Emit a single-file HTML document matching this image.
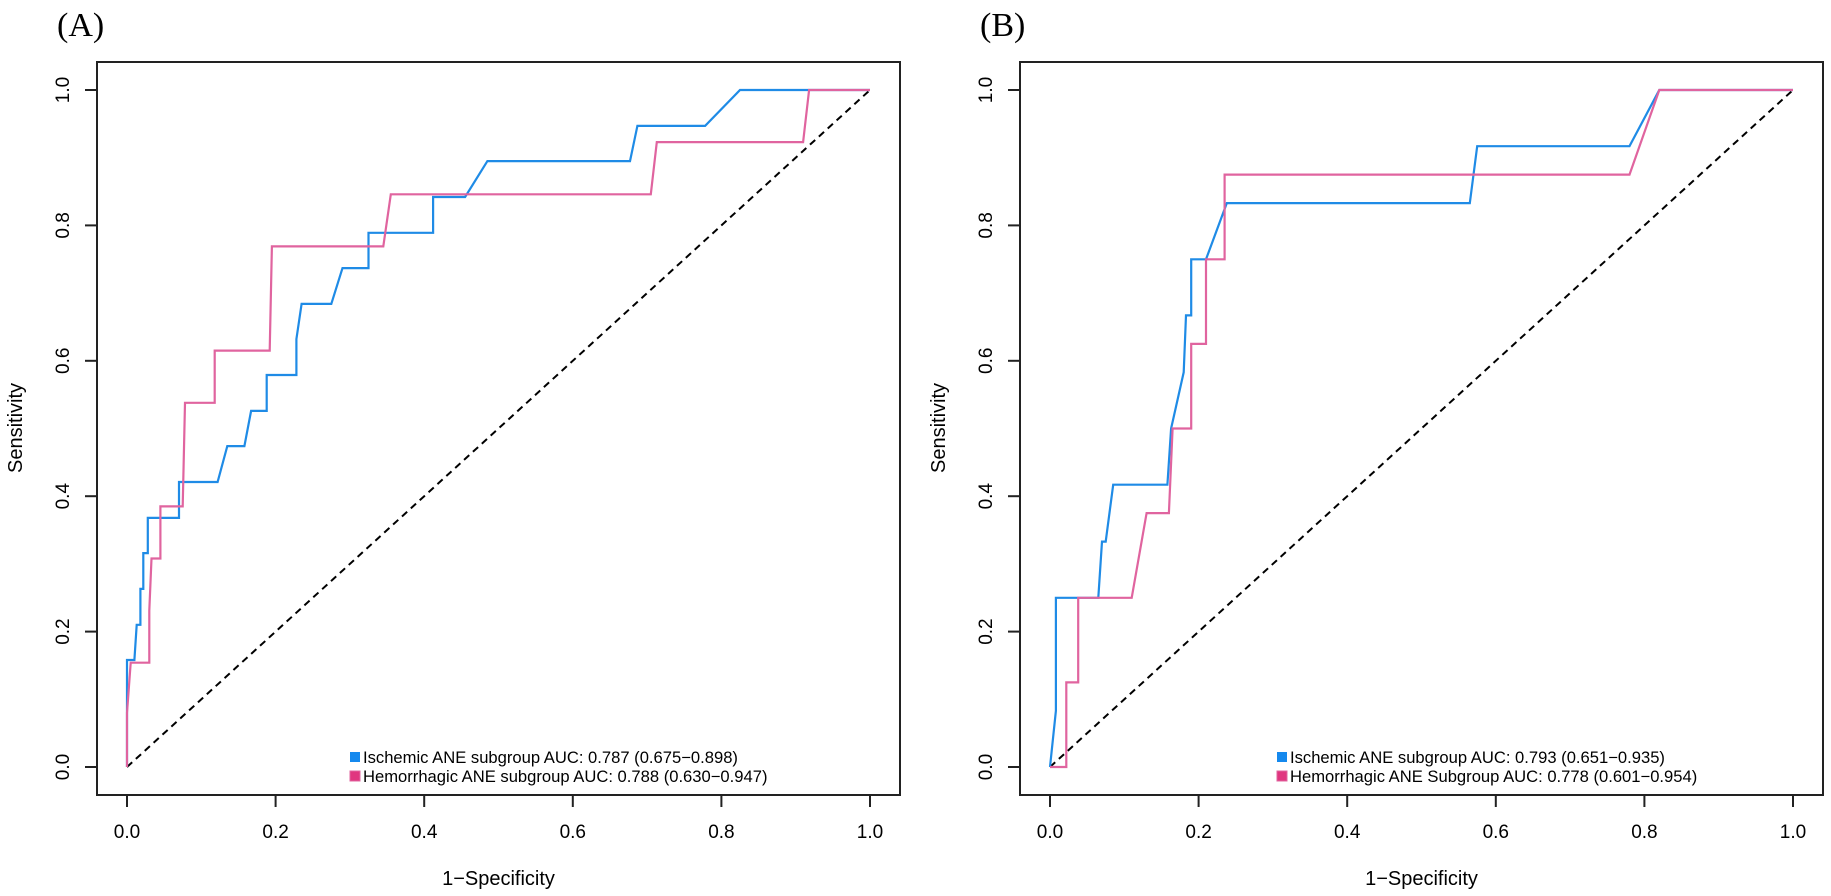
<!DOCTYPE html>
<html><head><meta charset="utf-8"><style>
body{margin:0;background:#fff}
svg{display:block}
text{font-family:"Liberation Sans",Arial,sans-serif;fill:#000}
</style></head><body>
<svg id="chart" width="1831" height="896" viewBox="0 0 1831 896"></svg>
<script>
const ticks=[0,0.2,0.4,0.6,0.8,1.0];
const tickLabels=["0.0","0.2","0.4","0.6","0.8","1.0"];
const aIschFpr=[0,0,0.01,0.013,0.018,0.018,0.022,0.022,0.028,0.028,0.07,0.07,0.122,0.135,0.158,0.167,0.188,0.188,0.228,0.228,0.235,0.275,0.29,0.325,0.325,0.412,0.412,0.455,0.485,0.677,0.687,0.778,0.825,1];
const aIschTpr=[0,0.158,0.158,0.21,0.21,0.263,0.263,0.316,0.316,0.368,0.368,0.421,0.421,0.474,0.474,0.526,0.526,0.579,0.579,0.632,0.684,0.684,0.737,0.737,0.789,0.789,0.842,0.842,0.895,0.895,0.947,0.947,1,1];
const aHemFpr=[0,0,0.005,0.03,0.03,0.033,0.045,0.045,0.075,0.078,0.118,0.118,0.192,0.195,0.345,0.355,0.705,0.713,0.91,0.918,1];
const aHemTpr=[0,0.08,0.154,0.154,0.231,0.308,0.308,0.385,0.385,0.538,0.538,0.615,0.615,0.769,0.769,0.846,0.846,0.923,0.923,1,1];
const bIschFpr=[0,0.008,0.008,0.065,0.07,0.075,0.085,0.158,0.163,0.18,0.183,0.19,0.19,0.21,0.238,0.565,0.575,0.78,0.82,1];
const bIschTpr=[0,0.083,0.25,0.25,0.333,0.333,0.417,0.417,0.5,0.583,0.667,0.667,0.75,0.75,0.833,0.833,0.917,0.917,1,1];
const bHemFpr=[0,0.022,0.022,0.038,0.038,0.11,0.13,0.16,0.165,0.19,0.19,0.21,0.21,0.235,0.235,0.78,0.82,1];
const bHemTpr=[0,0,0.125,0.125,0.25,0.25,0.375,0.375,0.5,0.5,0.625,0.625,0.75,0.75,0.875,0.875,1,1];
const aLegend=["Ischemic ANE subgroup AUC: 0.787 (0.675\u22120.898)","Hemorrhagic ANE subgroup AUC: 0.788 (0.630\u22120.947)"];
const bLegend=["Ischemic ANE subgroup AUC: 0.793 (0.651\u22120.935)","Hemorrhagic ANE Subgroup AUC: 0.778 (0.601\u22120.954)"];

const NS="http://www.w3.org/2000/svg";
const svg=document.getElementById('chart');
function mk(tag,attrs,parent){const e=document.createElementNS(NS,tag);for(const k in attrs)e.setAttribute(k,attrs[k]);(parent||svg).appendChild(e);return e;}
const BLUE="#1f8be6",PINK="#e0649f";

function panel(id,label,x0,x1,boxL,boxR,series,legend,legX){
  const y0=767,y1=90;
  const sx=v=>x0+v*(x1-x0), sy=v=>y0-v*(y0-y1);
  const g=mk('g',{});
  
  
  const t=mk('text',{x:boxL-40,y:36,'font-size':34,style:'font-family:"Liberation Serif",serif'},g);
  t.textContent=label;
  
  
  const box=mk('rect',{x:boxL,y:62,width:boxR-boxL,height:733,fill:'none',stroke:'#222','stroke-width':2},g);
  
  
  ticks.forEach((v,i)=>{
    const xt=mk('line',{x1:sx(v),x2:sx(v),y1:795,y2:807,stroke:'#222','stroke-width':2},g);
    
    
    const xl=mk('text',{x:sx(v),y:838,'font-size':19,'text-anchor':'middle'},g);
    xl.textContent=tickLabels[i];
    
    
    const yt=mk('line',{x1:boxL-12,x2:boxL,y1:sy(v),y2:sy(v),stroke:'#222','stroke-width':2},g);
    
    
    const yl=mk('text',{x:0,y:0,'font-size':19,'text-anchor':'middle',transform:`translate(${boxL-28},${sy(v)}) rotate(-90)`},g);
    yl.textContent=tickLabels[i];
    
    
  });
  const xt=mk('text',{x:(boxL+boxR)/2,y:885,'font-size':20,'text-anchor':'middle'},g);
  xt.textContent="1\u2212Specificity";
  
  
  const yT=mk('text',{x:0,y:0,'font-size':20,'text-anchor':'middle',transform:`translate(${boxL-75},428) rotate(-90)`},g);
  yT.textContent="Sensitivity";
  
  
  const d=mk('line',{x1:sx(0),y1:sy(0),x2:sx(1),y2:sy(1),stroke:'#000','stroke-width':2,'stroke-dasharray':'7,5'},g);
  
  
  series.forEach(s=>{
    const pts=s.fpr.map((f,i)=>sx(f).toFixed(1)+','+sy(s.tpr[i]).toFixed(1)).join(' ');
    const p=mk('polyline',{points:pts,fill:'none',stroke:s.color,'stroke-width':2.2,'stroke-linejoin':'miter'},g);
    
    
  });
  legend.forEach((txt,i)=>{
    const yy=763+i*19;
    const r=mk('rect',{x:legX,y:yy-11,width:10,height:10,fill:i?'#e0367f':'#1589ee',stroke:i?'#e0649f':'none'},g);
    
    
    const tt=mk('text',{x:legX+13,y:yy,'font-size':16.6},g);
    tt.textContent=txt;
    
    
  });
}
panel('a','(A)',127,870,97,900,[
  {fpr:aIschFpr,tpr:aIschTpr,color:BLUE,name:'ischemic-roc-curve'},
  {fpr:aHemFpr,tpr:aHemTpr,color:PINK,name:'hemorrhagic-roc-curve'}],aLegend,350);
panel('b','(B)',1050,1793,1020,1823,[
  {fpr:bIschFpr,tpr:bIschTpr,color:BLUE,name:'ischemic-roc-curve'},
  {fpr:bHemFpr,tpr:bHemTpr,color:PINK,name:'hemorrhagic-roc-curve'}],bLegend,1277);
</script>
</body></html>
